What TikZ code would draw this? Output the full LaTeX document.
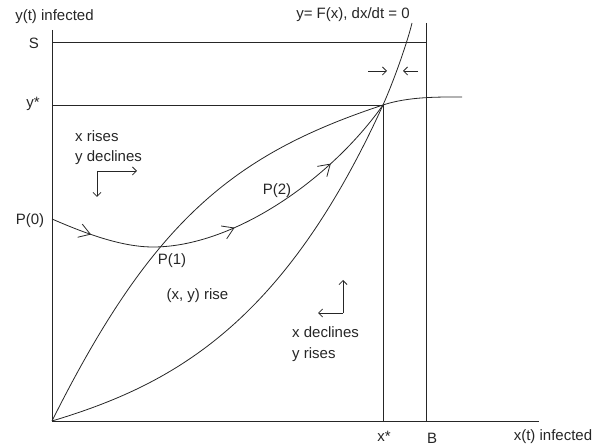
\documentclass[tikz,border=0pt]{standalone}
\usepackage{fontspec}
\setmainfont{Liberation Sans}
\usetikzlibrary{arrows.meta,decorations.markings}
\begin{document}
\begin{tikzpicture}[x=1pt,y=-1pt,
  ln/.style={line width=0.8pt, draw=black!85},
  lbl/.style={font=\fontsize{15}{18}\selectfont, inner sep=0pt, text=black!85},
  smallarr/.style={-{Straight Barb[length=4pt,width=8pt]}},
  bigtip/.tip={Straight Barb[length=11pt,width=14pt]}
]
\useasboundingbox (0,0) rectangle (595,446);
% key coordinates
\coordinate (O) at (52,421);
\coordinate (E) at (383,105);
\coordinate (Ytop) at (52,30);
\coordinate (Xend) at (539,421);
\coordinate (S0) at (52,42);
\coordinate (S1) at (426,42);
\coordinate (B0) at (426,23);
\coordinate (B1) at (426,421);
\coordinate (Y0) at (52,105);
\coordinate (X1) at (383,421);
\coordinate (Gend) at (462,97);
\coordinate (Fend) at (412,23);
\coordinate (T0) at (52,219);
\coordinate (Tmin) at (153,247);
% axes and reference lines
\draw[ln] (Ytop) -- (O) -- (Xend);
\draw[ln] (S0) -- (S1);
\draw[ln] (B0) -- (B1);
\draw[ln] (Y0) -- (E) -- (X1);
% concave curve through equilibrium
\draw[ln] (O) .. controls (152,221) and (233,154.5) .. (E)
              .. controls (409,96.4) and (440,97) .. (Gend);
% convex curve y = F(x)
\draw[ln] (O) .. controls (172,385) and (283,325) .. (E)
              .. controls (395,78) and (408,40) .. (Fend);
% trajectory
\draw[ln, postaction={decorate}, decoration={markings,
   mark=at position 42pt with {\arrow{bigtip}},
   mark=at position 190pt with {\arrow{bigtip}},
   mark=at position 306pt with {\arrow{bigtip}}}]
  (T0) .. controls (82,232) and (120,247) .. (Tmin)
       .. controls (233,247) and (330,180) .. (E);
% direction icons
\coordinate (c1) at (97,171);
\coordinate (c1r) at (137,171);
\coordinate (c1d) at (97,197);
\draw[ln, smallarr] (c1) -- (c1r);
\draw[ln, smallarr] (c1) -- (c1d);
\coordinate (c2) at (343,313);
\coordinate (c2u) at (343,280);
\coordinate (c2l) at (318,313);
\draw[ln, smallarr] (c2) -- (c2u);
\draw[ln, smallarr] (c2) -- (c2l);
\coordinate (a1s) at (368,71);
\coordinate (a1e) at (387,71);
\coordinate (a2s) at (418,71);
\coordinate (a2e) at (403,71);
\draw[ln, smallarr] (a1s) -- (a1e);
\draw[ln, smallarr] (a2s) -- (a2e);
% labels
\node[lbl] (ylab) at (54.5,17) {y(t) infected};
\node[lbl] (Flab) at (353,15) {y= F(x), dx/dt = 0};
\node[lbl] (Slab) at (34,43) {S};
\node[lbl] (ystar) at (33,104) {y*};
\node[lbl] (xstar) at (384,436) {x*};
\node[lbl] (Blab) at (432,438) {B};
\node[lbl] (xlab) at (553,437) {x(t) infected};
\node[lbl] (P0) at (30,221) {P(0)};
\node[lbl] (P1) at (172,261) {P(1)};
\node[lbl] (P2) at (277,191) {P(2)};
\node[lbl] (rise) at (197.5,296) {(x, y) rise};
\node[lbl, anchor=base west] (xr) at (75,142) {x rises};
\node[lbl, anchor=base west] (yd) at (75,162) {y declines};
\node[lbl, anchor=base west] (xd) at (292,338) {x declines};
\node[lbl, anchor=base west] (yr) at (292,359) {y rises};
\end{tikzpicture}
\end{document}
